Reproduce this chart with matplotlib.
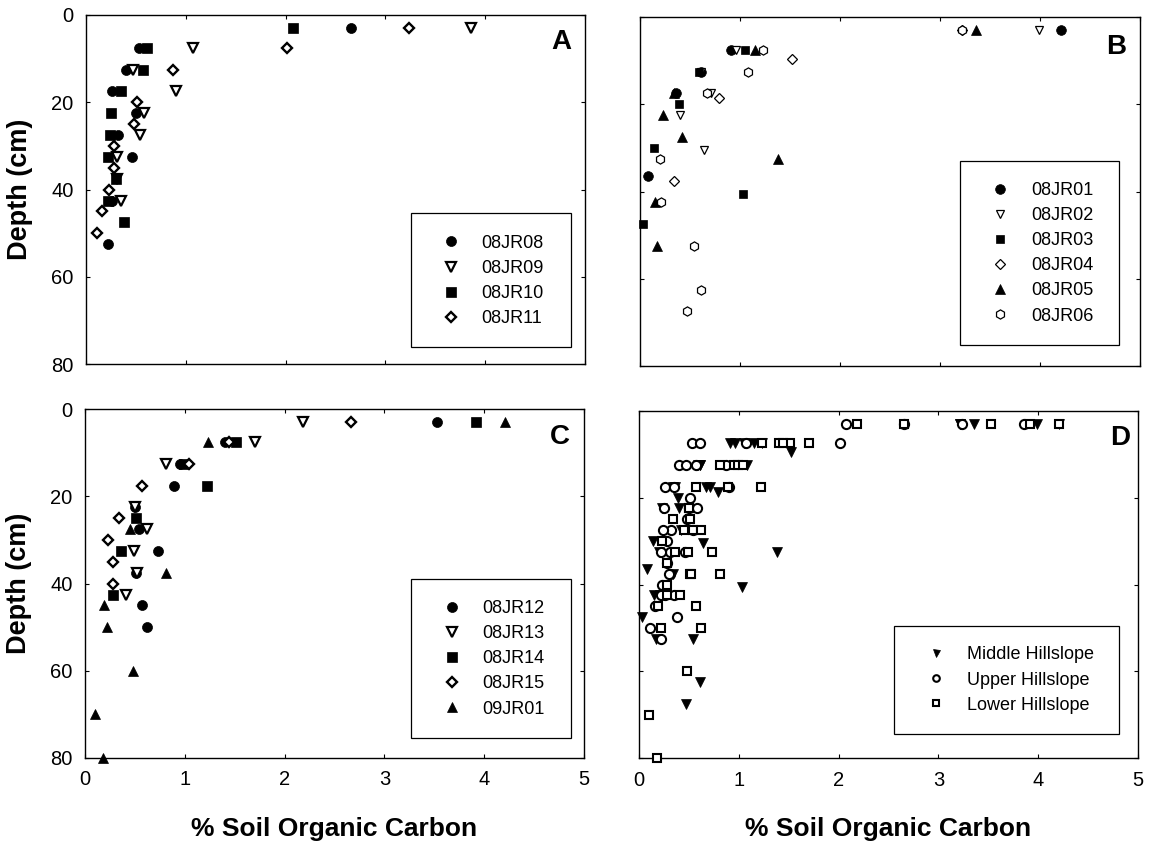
import matplotlib

matplotlib.use("Agg")
import matplotlib.pyplot as plt
from matplotlib.patches import Rectangle

plt.rcParams["font.family"] = ["Liberation Sans", "DejaVu Sans"]

# ---- panel A: upper hillslope cores ----
a08_soc = [2.66, 0.53, 0.40, 0.26, 0.50, 0.32, 0.46, 0.26, 0.22]
a08_depth = [3, 7.5, 12.5, 17.5, 22.5, 27.5, 32.5, 42.5, 52.5]
a09_soc = [3.86, 1.07, 0.47, 0.90, 0.58, 0.54, 0.31, 0.31, 0.35]
a09_depth = [3, 7.5, 12.5, 17.5, 22.5, 27.5, 32.5, 37.5, 42.5]
a10_soc = [2.07, 0.61, 0.575, 0.35, 0.25, 0.24, 0.22, 0.30, 0.22, 0.385]
a10_depth = [3, 7.5, 12.5, 17.5, 22.5, 27.5, 32.5, 37.5, 42.5, 47.5]
a11_soc = [3.24, 2.01, 0.875, 0.51, 0.48, 0.28, 0.28, 0.23, 0.16, 0.11]
a11_depth = [3, 7.5, 12.5, 20, 25, 30, 35, 40, 45, 50]

# ---- panel B: middle hillslope cores ----
b01_soc = [4.21, 0.91, 0.61, 0.36, 0.08]
b01_depth = [3, 7.5, 12.5, 17.5, 36.5]
b02_soc = [3.99, 0.96, 0.61, 0.71, 0.40, 0.64]
b02_depth = [3, 7.5, 12.5, 17.5, 22.5, 30.5]
b03_soc = [1.05, 0.59, 0.39, 0.14, 1.03, 0.03]
b03_depth = [7.5, 12.5, 20, 30, 40.5, 47.5]
b04_soc = [3.22, 1.52, 0.79, 0.34]
b04_depth = [3, 9.6, 18.6, 37.5]
b05_soc = [3.36, 1.15, 0.34, 0.23, 0.42, 1.38, 0.15, 0.17]
b05_depth = [3, 7.5, 17.5, 22.5, 27.5, 32.5, 42.5, 52.5]
b06_soc = [3.22, 1.23, 1.08, 0.67, 0.20, 0.21, 0.54, 0.61, 0.47]
b06_depth = [3, 7.5, 12.5, 17.5, 32.5, 42.5, 52.5, 62.5, 67.5]

# ---- panel C: lower hillslope cores ----
c12_soc = [3.53, 1.40, 0.95, 0.89, 0.50, 0.54, 0.73, 0.51, 0.57, 0.62]
c12_depth = [3, 7.5, 12.5, 17.5, 22.5, 27.5, 32.5, 37.5, 45, 50]
c13_soc = [2.18, 1.70, 0.81, 0.50, 0.62, 0.49, 0.52, 0.41]
c13_depth = [3, 7.5, 12.5, 22.5, 27.5, 32.5, 37.5, 42.5]
c14_soc = [3.92, 1.51, 0.99, 1.22, 0.51, 0.36, 0.28]
c14_depth = [3, 7.5, 12.5, 17.5, 25, 32.5, 42.5]
c15_soc = [2.66, 1.44, 1.04, 0.57, 0.34, 0.23, 0.28, 0.28]
c15_depth = [3, 7.5, 12.5, 17.5, 25, 30, 35, 40]
c01_soc = [4.21, 1.23, 0.45, 0.81, 0.19, 0.22, 0.48, 0.10, 0.18]
c01_depth = [3, 7.5, 27.5, 37.5, 45, 50, 60, 70, 80]

upper = [(a08_soc, a08_depth), (a09_soc, a09_depth), (a10_soc, a10_depth), (a11_soc, a11_depth)]
middle = [(b01_soc, b01_depth), (b02_soc, b02_depth), (b03_soc, b03_depth),
          (b04_soc, b04_depth), (b05_soc, b05_depth), (b06_soc, b06_depth)]
lower = [(c12_soc, c12_depth), (c13_soc, c13_depth), (c14_soc, c14_depth),
         (c15_soc, c15_depth), (c01_soc, c01_depth)]


def pool(groups):
    xs, ys = [], []
    for x, y in groups:
        xs += x
        ys += y
    return xs, ys


def scatter(ax, x, y, marker, filled, label, ms, mew):
    ax.plot(
        x, y, linestyle="none", marker=marker, markersize=ms,
        markerfacecolor="black" if filled else "white",
        markeredgecolor="black", markeredgewidth=mew,
        label=label, clip_on=False, zorder=3,
    )


def styleAxes(ax, xlabels, ylabels):
    ax.set_xlim(0, 5)
    ax.set_ylim(80, 0)
    ax.set_xticks(range(6))
    ax.set_yticks(range(0, 81, 20))
    ax.tick_params(direction="in", top=True, right=True, length=3.2, width=0.8,
                   labelsize=14.5, pad=9, colors="black")
    ax.tick_params(labelbottom=xlabels, labelleft=ylabels)
    for s in ax.spines.values():
        s.set_linewidth(1.0)
    if ylabels:
        ax.set_ylabel("Depth (cm)", fontsize=19.5, fontweight="bold")
        ax.yaxis.set_label_coords(-0.106, 0.5)
    if xlabels:
        ax.set_xlabel("% Soil Organic Carbon", fontsize=19, fontweight="bold")
        ax.xaxis.set_label_coords(0.5, -0.168)


def drawLegend(ax, box, anchor, markerscale=1.0):
    x0, y0, x1, y1 = box
    ax.add_patch(Rectangle((x0, y0), x1 - x0, y1 - y0, transform=ax.transAxes,
                           facecolor="white", edgecolor="black", lw=0.9,
                           zorder=4, clip_on=False))
    leg = ax.legend(loc="center left", bbox_to_anchor=anchor, frameon=False,
                    fontsize=13, handlelength=1.0, handletextpad=1.2,
                    labelspacing=0.45, borderpad=0, borderaxespad=0,
                    numpoints=1, markerscale=markerscale)
    leg.set_zorder(5)


fig = plt.figure(figsize=(11.54, 8.51), dpi=100)
axA = fig.add_axes([0.0745, 0.5719, 0.4324, 0.4105])
axB = fig.add_axes([0.5546, 0.5699, 0.4333, 0.4101])
axC = fig.add_axes([0.0737, 0.1093, 0.4324, 0.4098])
axD = fig.add_axes([0.5537, 0.1089, 0.4324, 0.4085])

# A
scatter(axA, a08_soc, a08_depth, "o", True, "08JR08", 7.2, 0.5)
scatter(axA, a09_soc, a09_depth, "v", False, "08JR09", 6.8, 1.6)
scatter(axA, a10_soc, a10_depth, "s", True, "08JR10", 6.6, 0.5)
scatter(axA, a11_soc, a11_depth, "D", False, "08JR11", 5.0, 1.7)
styleAxes(axA, False, True)
drawLegend(axA, (0.651, 0.05, 0.972, 0.433), (0.7134, 0.2385))
axA.text(0.952, 0.924, "A", transform=axA.transAxes, fontsize=20,
         fontweight="bold", ha="center", va="center")

# B
scatter(axB, b01_soc, b01_depth, "o", True, "08JR01", 7.0, 0.5)
scatter(axB, b02_soc, b02_depth, "v", False, "08JR02", 6.4, 0.9)
scatter(axB, b03_soc, b03_depth, "s", True, "08JR03", 6.3, 0.5)
scatter(axB, b04_soc, b04_depth, "D", False, "08JR04", 5.0, 0.9)
scatter(axB, b05_soc, b05_depth, "^", True, "08JR05", 6.8, 0.5)
scatter(axB, b06_soc, b06_depth, "h", False, "08JR06", 6.6, 0.9)
styleAxes(axB, False, False)
drawLegend(axB, (0.64, 0.06, 0.958, 0.587), (0.7028, 0.323))
axB.text(0.952, 0.915, "B", transform=axB.transAxes, fontsize=20,
         fontweight="bold", ha="center", va="center")

# C
scatter(axC, c12_soc, c12_depth, "o", True, "08JR12", 7.2, 0.5)
scatter(axC, c13_soc, c13_depth, "v", False, "08JR13", 6.8, 1.6)
scatter(axC, c14_soc, c14_depth, "s", True, "08JR14", 6.6, 0.5)
scatter(axC, c15_soc, c15_depth, "D", False, "08JR15", 5.0, 1.7)
scatter(axC, c01_soc, c01_depth, "^", True, "09JR01", 7.2, 0.5)
styleAxes(axC, True, True)
drawLegend(axC, (0.6525, 0.0565, 0.974, 0.5125), (0.717, 0.2845))
axC.text(0.952, 0.9215, "C", transform=axC.transAxes, fontsize=20,
         fontweight="bold", ha="center", va="center")

# D: pooled by hillslope position
mx, my = pool(middle)
ux, uy = pool(upper)
lx, ly = pool(lower)
scatter(axD, mx, my, "v", True, "Middle Hillslope", 7.0, 0.5)
scatter(axD, ux, uy, "o", False, "Upper Hillslope", 6.6, 1.5)
scatter(axD, lx, ly, "s", False, "Lower Hillslope", 6.2, 1.5)
styleAxes(axD, True, False)
drawLegend(axD, (0.5116, 0.069, 0.962, 0.3815), (0.577, 0.2253), markerscale=0.72)
axD.text(0.964, 0.921, "D", transform=axD.transAxes, fontsize=20,
         fontweight="bold", ha="center", va="center")

fig.savefig("out.png", dpi=100)
